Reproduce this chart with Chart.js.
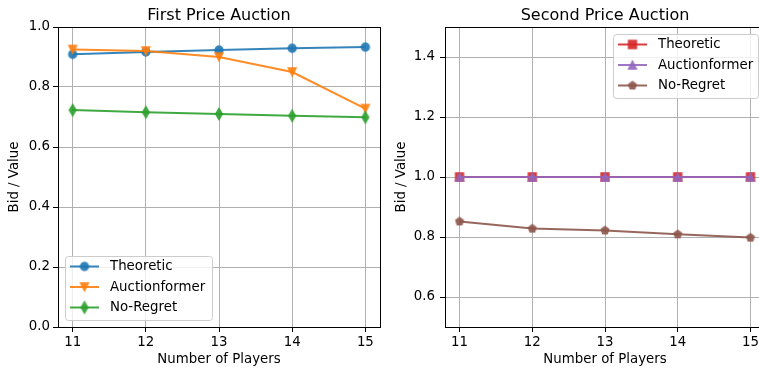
<!DOCTYPE html>
<html>
<head>
<meta charset="utf-8">
<script src="https://cdn.jsdelivr.net/npm/chart.js@4/dist/chart.umd.min.js"></script>
<style>
  html, body { margin: 0; padding: 0; background: #fff; width: 759px; height: 371px; overflow: hidden; position: relative; }
  #c1 { position: absolute; left: 0; top: 0; }
  #c2 { position: absolute; left: 380px; top: 0; }
</style>
</head>
<body>
<canvas id="c1" width="392" height="371"></canvas>
<canvas id="c2" width="400" height="371"></canvas>
<script>
// Number of bidders on the x axis
const players = [11, 12, 13, 14, 15];

// First price auction: bid / value
const fpTheoretic     = [0.909, 0.917, 0.923, 0.929, 0.933];
const fpAuctionformer = [0.925, 0.920, 0.900, 0.850, 0.728];
const fpNoRegret      = [0.723, 0.716, 0.710, 0.704, 0.699];

// Second price auction: bid / value
const spTheoretic     = [1.0, 1.0, 1.0, 1.0, 1.0];
const spAuctionformer = [1.0, 1.0, 1.0, 1.0, 1.0];
const spNoRegret      = [0.852, 0.828, 0.822, 0.809, 0.798];

// Axis tick values
const fpYTicks = [0.0, 0.2, 0.4, 0.6, 0.8, 1.0];
const spYTicks = [0.6, 0.8, 1.0, 1.2, 1.4];

const FONT = 'DejaVu Sans';
const ALPHA = 0.9;

function rgba(hex, a) {
  const n = parseInt(hex.slice(1), 16);
  return `rgba(${(n >> 16) & 255},${(n >> 8) & 255},${n & 255},${a})`;
}

// Marker sprites (w = marker size in px)
function makeMarker(kind, hex, w = 8) {
  const S = 20;
  const base = document.createElement('canvas');
  base.width = S; base.height = S;
  const g = base.getContext('2d');
  g.translate(S / 2, S / 2);
  g.beginPath();
  const h = w / 2;
  if (kind === 'circle') {
    g.arc(0, 0, h, 0, Math.PI * 2);
  } else if (kind === 'tridown') {
    g.moveTo(0, h); g.lineTo(-h, -h); g.lineTo(h, -h); g.closePath();
  } else if (kind === 'triup') {
    g.moveTo(0, -h); g.lineTo(-h, h); g.lineTo(h, h); g.closePath();
  } else if (kind === 'square') {
    g.rect(-h, -h, w, w);
  } else if (kind === 'thindiamond') {
    const d = w * Math.SQRT2 / 2;
    g.moveTo(0, -d); g.lineTo(0.6 * d, 0); g.lineTo(0, d); g.lineTo(-0.6 * d, 0); g.closePath();
  } else if (kind === 'pentagon') {
    for (let i = 0; i < 5; i++) {
      const a = -Math.PI / 2 + i * 2 * Math.PI / 5;
      const px = Math.cos(a) * h, py = Math.sin(a) * h;
      if (i === 0) g.moveTo(px, py); else g.lineTo(px, py);
    }
    g.closePath();
  }
  g.fillStyle = hex; g.strokeStyle = hex; g.lineWidth = 1.33; g.lineJoin = 'miter';
  g.fill(); g.stroke();
  const out = document.createElement('canvas');
  out.width = S; out.height = S;
  const o = out.getContext('2d');
  o.globalAlpha = ALPHA;
  o.drawImage(base, 0, 0);
  return out;
}

// Later series are painted on top of earlier ones
function series(label, values, hex, marker, index) {
  return {
    label,
    data: values.map((v, i) => ({ x: players[i], y: v })),
    borderColor: rgba(hex, ALPHA),
    backgroundColor: rgba(hex, ALPHA),
    borderWidth: 2,
    tension: 0,
    pointStyle: makeMarker(marker, hex),
    pointRadius: 4,
    order: 10 - index
  };
}

// Frame around the plotting area
const framePlugin = {
  id: 'frame',
  afterDatasetsDraw(chart) {
    const { ctx, chartArea: a } = chart;
    ctx.save();
    ctx.strokeStyle = '#000';
    ctx.lineWidth = 1;
    ctx.strokeRect(Math.round(a.left) + 0.5, Math.round(a.top) + 0.5,
                   Math.round(a.right - a.left), Math.round(a.bottom - a.top));
    ctx.restore();
  }
};

// Title centred over the plotting area
const titlePlugin = {
  id: 'axTitle',
  afterDraw(chart, args, opts) {
    const { ctx, chartArea: a } = chart;
    ctx.save();
    ctx.font = `16px "${FONT}"`;
    ctx.fillStyle = '#000';
    ctx.textAlign = 'center';
    ctx.textBaseline = 'alphabetic';
    ctx.fillText(opts.text, (a.left + a.right) / 2, opts.baseline);
    ctx.restore();
  }
};

// Boxed legend with line + marker samples
const boxLegendPlugin = {
  id: 'boxLegend',
  afterDraw(chart, args, opts) {
    const { ctx } = chart;
    const { left, top, width, height, row } = opts;
    ctx.save();
    ctx.beginPath();
    if (ctx.roundRect) ctx.roundRect(left + 0.5, top + 0.5, width, height, 3);
    else ctx.rect(left + 0.5, top + 0.5, width, height);
    ctx.fillStyle = 'rgba(255,255,255,0.8)';
    ctx.fill();
    ctx.strokeStyle = '#cccccc';
    ctx.lineWidth = 1;
    ctx.stroke();
    chart.data.datasets.forEach((ds, i) => {
      const y = top + 10.5 + i * row;
      const x0 = left + 5;
      ctx.beginPath();
      ctx.moveTo(x0, y); ctx.lineTo(x0 + 29, y);
      ctx.strokeStyle = ds.borderColor; ctx.lineWidth = 2;
      ctx.stroke();
      const img = ds.pointStyle;
      ctx.drawImage(img, x0 + 14.5 - img.width / 2, y - img.height / 2);
      ctx.font = `13.33px "${FONT}"`;
      ctx.fillStyle = '#000';
      ctx.textAlign = 'left';
      ctx.textBaseline = 'middle';
      ctx.fillText(ds.label, x0 + 40, y + 0.5);
    });
    ctx.restore();
  }
};

function makeChart(el, datasets, yMin, yMax, yTicks, yAxisWidth, yTitlePad, yTickPad, padRight, title, legend) {
  const tickFont = { family: FONT, size: 13.33 };
  return new Chart(el, {
    type: 'line',
    data: { datasets },
    plugins: [framePlugin, titlePlugin, boxLegendPlugin],
    options: {
      responsive: false,
      devicePixelRatio: 1,
      animation: false,
      events: [],
      layout: { padding: { left: 0, top: 27, right: padRight, bottom: 0 } },
      plugins: {
        legend: { display: false },
        tooltip: { enabled: false },
        axTitle: { text: title, baseline: 19.5 },
        boxLegend: legend
      },
      scales: {
        x: {
          type: 'linear',
          min: 10.8, max: 15.2,
          afterBuildTicks: s => { s.ticks = players.map(v => ({ value: v })); },
          afterFit: s => { s.height = 44; },
          ticks: { callback: v => String(v), font: tickFont, color: '#000', padding: 3, maxRotation: 0, autoSkip: false },
          grid: { color: '#b0b0b0', lineWidth: 1, tickColor: '#000', tickLength: 5, tickWidth: 1 },
          border: { display: false },
          title: { display: true, text: 'Number of Players', font: tickFont, color: '#000', padding: { top: 0, bottom: 3 } }
        },
        y: {
          type: 'linear',
          min: yMin, max: yMax,
          afterBuildTicks: s => { s.ticks = yTicks.map(v => ({ value: v })); },
          afterFit: s => { s.width = yAxisWidth; },
          ticks: { callback: v => Number(v).toFixed(1), font: tickFont, color: '#000', padding: yTickPad, autoSkip: false },
          grid: { color: '#b0b0b0', lineWidth: 1, tickColor: '#000', tickLength: 5, tickWidth: 1 },
          border: { display: false },
          title: { display: true, text: 'Bid / Value', font: tickFont, color: '#000', padding: { top: yTitlePad, bottom: 0 } }
        }
      }
    }
  });
}

makeChart(document.getElementById('c1'), [
  series('Theoretic', fpTheoretic, '#1f77b4', 'circle', 0),
  series('Auctionformer', fpAuctionformer, '#ff7f0e', 'tridown', 1),
  series('No-Regret', fpNoRegret, '#2ca02c', 'thindiamond', 2)
], 0, 1, fpYTicks, 58, 7, 3, 12, 'First Price Auction',
{ left: 65, top: 256, width: 147, height: 64, row: 20.5 });

makeChart(document.getElementById('c2'), [
  series('Theoretic', spTheoretic, '#d62728', 'square', 0),
  series('Auctionformer', spAuctionformer, '#9467bd', 'triup', 1),
  series('No-Regret', spNoRegret, '#8c564b', 'pentagon', 2)
], 0.5, 1.5, spYTicks, 65, 14, 5, 15, 'Second Price Auction',
{ left: 233, top: 34, width: 145, height: 64, row: 20.5 });
</script>
</body>
</html>
